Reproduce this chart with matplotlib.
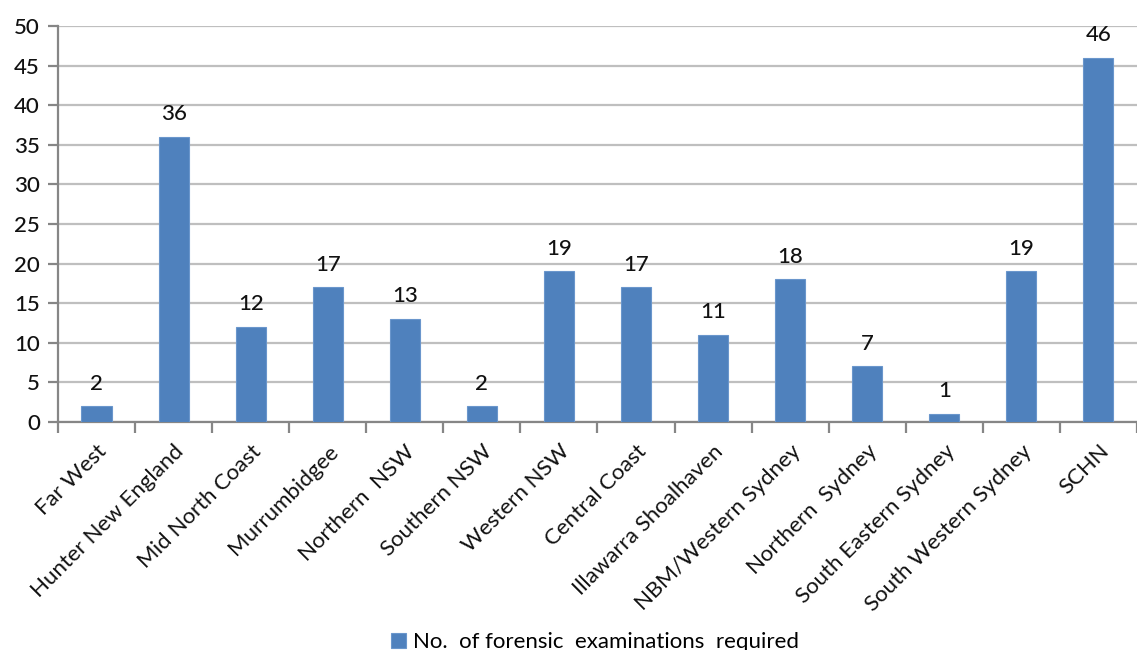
import matplotlib
matplotlib.use("Agg")
import matplotlib.pyplot as plt
import numpy as np

plt.rcParams['font.family'] = ['Lato', 'DejaVu Sans']

regions = ["Far West", "Hunter New England", "Mid North Coast", "Murrumbidgee",
           "Northern  NSW", "Southern NSW", "Western NSW", "Central Coast",
           "Illawarra Shoalhaven", "NBM/Western Sydney", "Northern  Sydney",
           "South Eastern Sydney", "South Western Sydney", "SCHN"]
exams = [2, 36, 12, 17, 13, 2, 19, 17, 11, 18, 7, 1, 19, 46]
series_name = "No.  of forensic  examinations  required"
yticks = [0, 5, 10, 15, 20, 25, 30, 35, 40, 45, 50]

bar_color = "#4F81BD"
grid_color = "#BFBFBF"
axis_color = "#868686"
text_color = "#111111"

fig = plt.figure(figsize=(11.37, 6.5), dpi=100)
ax = fig.add_axes([0.051, 0.351, 0.949, 0.609])

x = np.arange(len(regions))
bars = ax.bar(x, exams, width=0.39, color=bar_color, edgecolor="#6A96CC",
              linewidth=0.8, label=series_name, zorder=3)

for xi, v in zip(x, exams):
    ax.annotate(str(v), (xi, v), xytext=(0, 9), textcoords="offset points",
                ha="center", va="bottom", fontsize=16, color=text_color,
                fontweight="medium")

ax.set_xlim(-0.5, len(regions) - 0.5)
ax.set_ylim(0, 50)
ax.set_yticks(yticks)
ax.set_yticklabels([str(t) for t in yticks], fontsize=16, color=text_color,
                   fontweight="medium")
ax.yaxis.grid(True, color=grid_color, linewidth=1.6, zorder=0)
ax.set_axisbelow(True)

ax.set_xticks(x)
ax.set_xticklabels(regions, rotation=45, ha="right", rotation_mode="anchor",
                   fontsize=16, color=text_color)
ax.set_xticks(np.arange(-0.5, len(regions) + 0.5, 1), minor=True)
ax.tick_params(axis="x", which="major", length=0, pad=14)
ax.tick_params(axis="x", which="minor", length=8, width=1.6, color=axis_color)
ax.tick_params(axis="y", length=7, width=1.6, color=axis_color, pad=6)

for side in ["top", "right"]:
    ax.spines[side].set_visible(False)
for side in ["left", "bottom"]:
    ax.spines[side].set_color(axis_color)
    ax.spines[side].set_linewidth(1.6)

fig.legend(handles=[bars], labels=[series_name], loc="center",
           bbox_to_anchor=(0.523, 0.012), frameon=False,
           prop={"size": 16}, handlelength=0.7, handleheight=0.7,
           handletextpad=0.3)

fig.savefig("out.png", dpi=100, facecolor="white")
